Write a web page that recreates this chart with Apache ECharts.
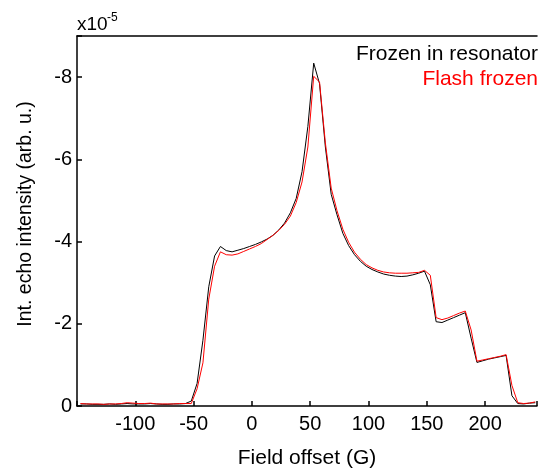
<!DOCTYPE html>
<html><head><meta charset="utf-8">
<script src="https://cdn.jsdelivr.net/npm/echarts@6/dist/echarts.min.js"></script>
<style>html,body{margin:0;padding:0;background:#fff;overflow:hidden}#c{width:540px;height:474px}</style>
</head><body><div id="c"></div>
<script>
// Field offset (G)
const fieldOffset = [-147,-142,-137,-132,-127,-122,-117,-112,-107,-102,-97,-92,-87,-82,-77,-72,-67,-62,-57,
  -52,-47,-42,-37,-32,-27,-22,-17,-12,-7,-2,3,8,13,18,23,28,33,38,43,48,53,58,63,68,73,78,83,88,93,98,
  103,108,113,118,123,128,133,138,143,148,153,158,163,168,173,178,183,188,193,198,203,208,213,218,223,228,233,238,243];
// Integrated echo intensity, units of 1e-5 (arb. u.)
const frozenInResonator = [-0.05,-0.05,-0.04,-0.04,-0.04,-0.05,-0.04,-0.05,-0.06,-0.05,-0.05,-0.05,-0.06,-0.05,-0.04,-0.04,-0.05,-0.05,-0.06,
  -0.12,-0.55,-1.6,-2.9,-3.65,-3.88,-3.78,-3.75,-3.79,-3.83,-3.88,-3.93,-3.99,-4.06,-4.15,-4.28,-4.45,-4.7,-5.05,-5.7,-6.8,
  -8.34,-7.84,-6.3,-5.15,-4.65,-4.2,-3.9,-3.68,-3.52,-3.4,-3.32,-3.26,-3.21,-3.18,-3.16,-3.15,-3.16,-3.19,-3.23,-3.28,
  -2.95,-2.05,-2.03,-2.09,-2.15,-2.21,-2.27,-1.65,-1.06,-1.1,-1.14,-1.17,-1.2,-1.23,-0.25,-0.06,-0.05,-0.07,-0.08];
const flashFrozen = [-0.06,-0.05,-0.05,-0.05,-0.04,-0.05,-0.05,-0.06,-0.08,-0.07,-0.06,-0.06,-0.07,-0.05,-0.05,-0.05,-0.05,-0.06,-0.06,
  -0.06,-0.42,-1.05,-2.6,-3.4,-3.75,-3.68,-3.67,-3.7,-3.76,-3.82,-3.88,-3.95,-4.05,-4.15,-4.27,-4.42,-4.62,-4.95,-5.45,-6.3,
  -8.02,-7.88,-6.4,-5.3,-4.75,-4.3,-3.98,-3.74,-3.57,-3.44,-3.36,-3.3,-3.26,-3.24,-3.23,-3.23,-3.23,-3.24,-3.25,-3.3,
  -3.18,-2.15,-2.1,-2.14,-2.2,-2.26,-2.31,-1.85,-1.09,-1.12,-1.15,-1.18,-1.21,-1.25,-0.5,-0.08,-0.06,-0.07,-0.1];
const seriesNames = ['Frozen in resonator', 'Flash frozen'];
const xTicks = [-100,-50,0,50,100,150,200];
const yTicks = [-8,-6,-4,-2,0];

const FONT = 'Liberation Sans, Arial, Helvetica, sans-serif';
const chart = echarts.init(document.getElementById('c'), null, {renderer:'canvas', width:540, height:474});
const pair = arr => fieldOffset.map((x,i)=>[x, arr[i]]);
chart.setOption({
  animation:false,
  grid:{left:77, width:463, top:36, height:373, containLabel:false},
  xAxis:[{
    type:'value', min:-150, max:244.5, interval:50,
    name:'Field offset (G)', nameLocation:'middle', nameGap:42,
    nameTextStyle:{fontFamily:FONT, fontSize:21, color:'#000'},
    axisLine:{show:true, onZero:false, lineStyle:{color:'#000', width:1.5}},
    axisTick:{show:true, inside:true, length:5, lineStyle:{color:'#000', width:1.5}},
    axisLabel:{fontFamily:FONT, fontSize:20, color:'#000', margin:8,
      formatter:v => xTicks.includes(v) ? String(v) : ''},
    splitLine:{show:false}
  },{
    type:'value', position:'top', min:-150, max:244.5,
    axisLine:{show:true, onZero:false, lineStyle:{color:'#000', width:1.5}},
    axisTick:{show:false}, axisLabel:{show:false}, splitLine:{show:false}
  }],
  yAxis:{
    type:'value', min:-9, max:0, inverse:true, splitNumber:5,
    axisLine:{show:true, onZero:false, lineStyle:{color:'#000', width:1.5}},
    axisTick:{show:true, inside:true, length:5, lineStyle:{color:'#000', width:1.5}},
    axisLabel:{fontFamily:FONT, fontSize:20, color:'#000', margin:5,
      formatter:v => yTicks.includes(v) ? String(v) : ''},
    splitLine:{show:false}
  },
  series:[
    {name:seriesNames[0], type:'line', data:pair(frozenInResonator), showSymbol:false, symbol:'none',
      lineStyle:{color:'#000', width:1}, itemStyle:{color:'#000'}, z:2},
    {name:seriesNames[1], type:'line', data:pair(flashFrozen), showSymbol:false, symbol:'none',
      lineStyle:{color:'#ff0000', width:1}, itemStyle:{color:'#ff0000'}, z:3}
  ],
  graphic:[
    {type:'text', x:77, y:25, style:{text:'x10', fontFamily:FONT, fontSize:19, fill:'#000', verticalAlign:'middle', align:'left'}},
    {type:'text', x:107, y:18, style:{text:'-5', fontFamily:FONT, fontSize:12, fill:'#000', verticalAlign:'middle', align:'left'}},
    {type:'text', x:26, y:214, rotation:Math.PI/2, style:{text:'Int. echo intensity (arb. u.)', fontFamily:FONT, fontSize:19.5, fill:'#000', align:'center', verticalAlign:'middle'}},
    {type:'text', x:538, y:54, style:{text:seriesNames[0], fontFamily:FONT, fontSize:21, fill:'#000', align:'right', verticalAlign:'middle'}},
    {type:'text', x:538, y:79.5, style:{text:seriesNames[1], fontFamily:FONT, fontSize:21, fill:'#ff0000', align:'right', verticalAlign:'middle'}}
  ]
});
</script></body></html>
